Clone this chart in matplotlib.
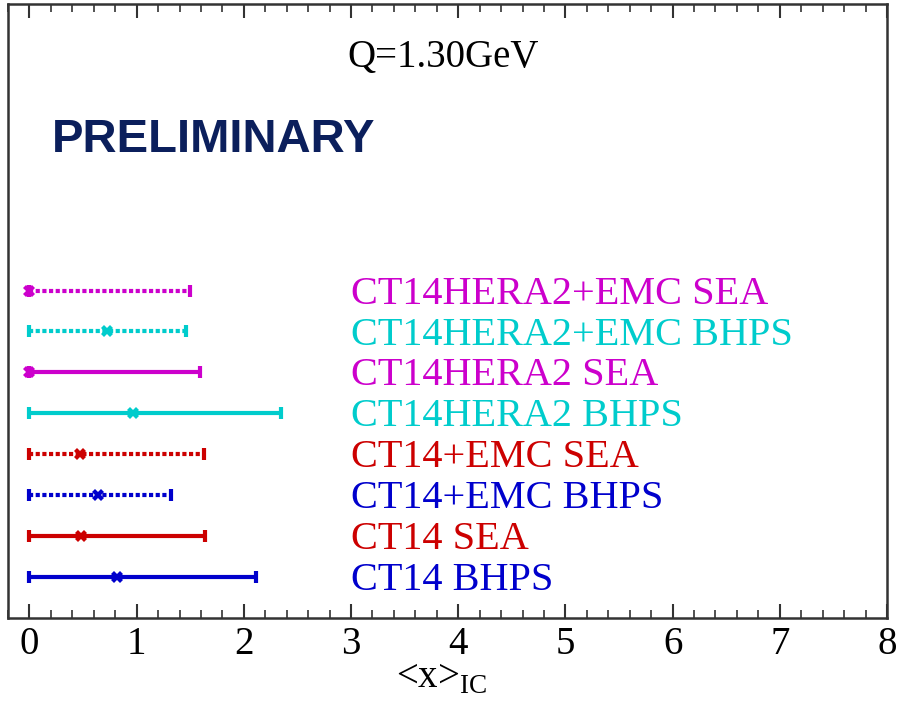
import matplotlib
matplotlib.use("Agg")
import matplotlib.pyplot as plt
from matplotlib.ticker import MultipleLocator

plt.rcParams['font.family'] = ['Liberation Serif', 'DejaVu Serif']
plt.rcParams['mathtext.fontset'] = 'custom'
plt.rcParams['mathtext.rm'] = 'Liberation Serif'

# fits, bottom row first
labels = ["CT14 BHPS", "CT14 SEA", "CT14+EMC BHPS", "CT14+EMC SEA",
          "CT14HERA2 BHPS", "CT14HERA2 SEA", "CT14HERA2+EMC BHPS", "CT14HERA2+EMC SEA"]
central = [0.82, 0.48, 0.64, 0.47, 0.97, 0.0, 0.72, 0.0]
low = [0.0, 0.0, 0.0, 0.0, 0.0, 0.0, 0.0, 0.0]
high = [2.11, 1.64, 1.32, 1.63, 2.35, 1.59, 1.46, 1.50]
colors = ["#0000cc", "#cc0000", "#0000cc", "#cc0000",
          "#00cccc", "#cc00cc", "#00cccc", "#cc00cc"]
dotted = [False, False, True, True, False, False, True, True]

fig = plt.figure(figsize=(9.01, 7.05), dpi=100)
ax = fig.add_axes([8/901, 1-618/705, 879/901, 614/705])

for i in range(len(labels)):
    y = i + 1
    c = central[i]
    eb = ax.errorbar([c], [y], xerr=[[c - low[i]], [high[i] - c]], fmt='none',
                     ecolor=colors[i], elinewidth=3, capsize=4, capthick=3)
    if dotted[i]:
        eb[2][0].set_linestyle((0, (1, 0.6)))
    ax.plot([c], [y], marker='X', ms=9, color=colors[i], mew=0)
    ax.text(3.0, y - 0.32, labels[i], color=colors[i], fontsize=29, va='baseline', ha='left')

ax.text(3.86, 13.46, "Q=1.30GeV", fontsize=28, ha='center', va='baseline')
ax.text(0.21, 11.39, "PRELIMINARY", fontsize=34, fontweight='bold', color='#0b1f5c',
        family='Liberation Sans', ha='left', va='baseline')

ax.set_xlim(-0.2, 8)
ax.set_ylim(0, 15)
ax.xaxis.set_major_locator(MultipleLocator(1))
ax.xaxis.set_minor_locator(MultipleLocator(0.2))
ax.tick_params(axis='x', which='both', direction='in', top=True, bottom=True,
               labelsize=28, pad=6, color='#333333')
ax.tick_params(axis='x', which='major', length=10, width=1.5)
ax.tick_params(axis='x', which='minor', length=6, width=1.2)
ax.set_yticks([])
for s in ax.spines.values():
    s.set_linewidth(1.8)
    s.set_color('#333333')

fig.text(442/901, 1-688/705, r"<x>$_{\mathrm{IC}}$", fontsize=28, ha='center', va='baseline')

fig.savefig("out.png", dpi=100)
